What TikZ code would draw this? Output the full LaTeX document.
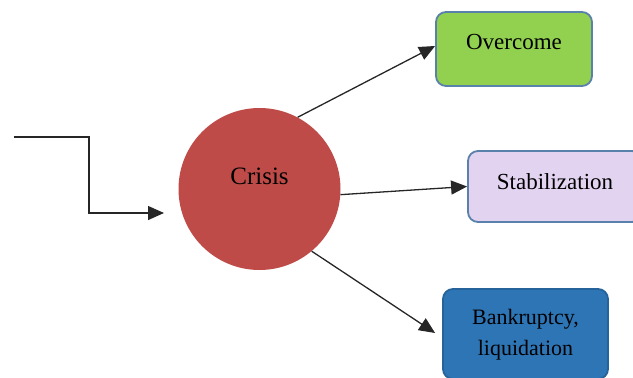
\documentclass[tikz,border=0pt]{standalone}
\usepackage{fontspec}
\setmainfont{Liberation Serif}
\usetikzlibrary{arrows.meta,calc}
\definecolor{crisisred}{HTML}{BE4B48}
\definecolor{overgreen}{HTML}{92D050}
\definecolor{stablav}{HTML}{E2D4F1}
\definecolor{bankblue}{HTML}{2E75B6}
\definecolor{boxedge}{HTML}{5A80AC}
\begin{document}
\begin{tikzpicture}[x=1pt,y=-1pt,
  boxstyle/.style={draw=boxedge,line width=1.8pt,rounded corners=10pt,inner sep=0pt},
  lbl/.style={inner sep=0pt,font=\fontsize{23}{31}\selectfont,align=center},
  conn/.style={line width=1.3pt,draw=black!85,-{Triangle[length=16pt,width=14pt]}}]
\useasboundingbox (0,0) rectangle (633,378);
\clip (0,0) rectangle (633,378);
% central circle
\node[circle,fill=crisisred,minimum size=162pt,inner sep=0pt] (crisis) at (259.5,189) {};
\node[lbl,font=\fontsize{25}{30}\selectfont] (crisistext) at (259.5,176) {Crisis};
% boxes
\node[boxstyle,fill=overgreen,minimum width=156pt,minimum height=74pt] (overcome) at (514,49) {};
\node[lbl] (overcometext) at (514,42) {Overcome};
\node[boxstyle,fill=stablav,minimum width=174pt,minimum height=71pt] (stab) at (555,186.5) {};
\node[lbl] (stabtext) at (555,182) {Stabilization};
\node[boxstyle,fill=bankblue,draw=bankblue!85!black,minimum width=165pt,minimum height=90pt] (bank) at (525.5,334) {};
\node[lbl,font=\fontsize{22}{31}\selectfont] (banktext) at (525.5,334.5) {Bankruptcy,\\liquidation};
% input connector
\coordinate (in0) at (14,137);
\coordinate (in1) at (164,213);
\draw[conn] (in0) -- (89,137) -- (89,213) -- (in1);
% output connectors
\draw[conn] (crisis.62) -- ($(overcome.west)+(0,-3)$);
\draw[conn] (crisis.-4) -- (stab.west);
\draw[conn] (crisis.-50) -- ($(bank.west)+(-7,-1)$);
\end{tikzpicture}
\end{document}
